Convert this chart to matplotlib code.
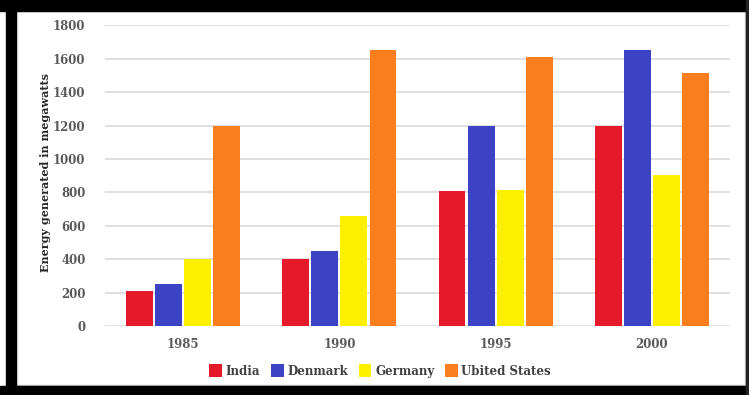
import numpy as np
import matplotlib.pyplot as plt
from matplotlib.patches import Rectangle

years = ['1985', '1990', '1995', '2000']
countries = ['India', 'Denmark', 'Germany', 'Ubited States']
india = [210, 400, 810, 1200]
denmark = [250, 450, 1200, 1650]
germany = [400, 660, 815, 905]
usa = [1200, 1650, 1610, 1515]
colors = ['#e5192a', '#3b43c4', '#fff000', '#fb7e1e']

W, H = 749, 395
fig = plt.figure(figsize=(W / 100, H / 100), dpi=100)
fig.patch.set_facecolor('white')

# axes placed in pixel terms
left, right, bottom, top = 105, 730, 326, 25.4
ax = fig.add_axes([left / W, 1 - bottom / H, (right - left) / W, (bottom - top) / H])

x = np.arange(len(years))
step = 0.186
width = 0.172
series = [india, denmark, germany, usa]
for i, (vals, c, name) in enumerate(zip(series, colors, countries)):
    ax.bar(x + (i - 1.5) * step, vals, width, color=c, label=name, zorder=3)

ax.set_xlim(-0.5, 3.5)
ax.set_ylim(0, 1800)
ax.set_yticks(range(0, 1801, 200))
ax.set_xticks(x)
ax.set_xticklabels(years)
ax.yaxis.grid(True, color='#d9d9d9', lw=1.2, zorder=0)
ax.set_axisbelow(True)
for s in ax.spines.values():
    s.set_visible(False)
ax.tick_params(length=0, colors='#595959', labelsize=8.5)
ax.tick_params(axis='y', pad=14)
ax.tick_params(axis='x', pad=9)
for lab in ax.get_xticklabels() + ax.get_yticklabels():
    lab.set_fontfamily('DejaVu Serif')
    lab.set_fontweight('bold')

fig.text(46 / W, 1 - 172 / H, 'Energy generated in megawatts', rotation=90,
         ha='center', va='center', fontsize=8, family='DejaVu Serif',
         weight='bold', color='#262626')

leg = fig.legend(loc='center', bbox_to_anchor=(380 / W, 1 - 371 / H), ncol=4,
                 frameon=False, handlelength=1.1, handleheight=1.2,
                 handletextpad=0.3, columnspacing=0.9,
                 prop={'family': 'DejaVu Serif', 'weight': 'bold', 'size': 8.5})
for t in leg.get_texts():
    t.set_color('#404040')

# black frame around the chart
def px_rect(x0, y0, w, h, **kw):
    fig.add_artist(Rectangle((x0 / W, 1 - (y0 + h) / H), w / W, h / H,
                             transform=fig.transFigure, **kw))

px_rect(16, 11, 729, 374, fill=False, edgecolor='#c8c8c8', lw=1)
px_rect(0, 0, W, 11, color='black')
px_rect(6, 0, 10, H, color='black')
px_rect(0, 386, W, 9, color='black')
px_rect(746, 0, 3, H, color='#222222')

fig.savefig('out.png', dpi=100)
